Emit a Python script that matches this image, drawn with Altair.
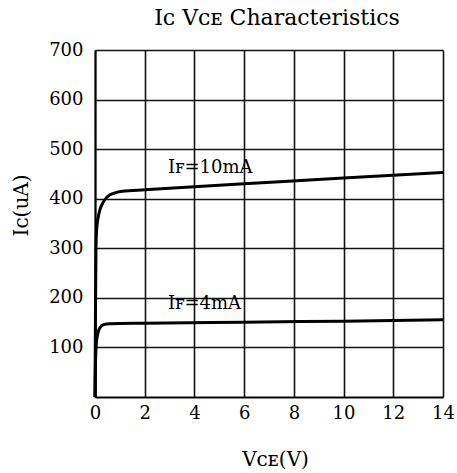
import altair as alt
import pandas as pd

# IF = 10 mA curve
vce_10 = [0, 0.02, 0.04, 0.07, 0.12, 0.2, 0.32, 0.5, 0.75, 1.1, 2, 6, 10, 14]
ic_10 = [0, 180, 300, 340, 360, 378, 392, 404, 411, 415, 418, 430, 442, 453]
# IF = 4 mA curve
vce_4 = [0, 0.02, 0.05, 0.1, 0.2, 0.35, 0.6, 2, 6, 10, 14]
ic_4 = [0, 70, 105, 125, 140, 146, 148, 149, 151, 153, 156]

label_text = ["Iꜰ=10mA", "Iꜰ=4mA"]
label_v = [2.94, 2.94]
label_ic = [462, 187]

x_ticks = [0, 2, 4, 6, 8, 10, 12, 14]
y_ticks = [100, 200, 300, 400, 500, 600, 700]

rows = []
for v, i in zip(vce_10, ic_10):
    rows.append({"v": v, "i": i, "curve": "10mA"})
for v, i in zip(vce_4, ic_4):
    rows.append({"v": v, "i": i, "curve": "4mA"})
df = pd.DataFrame(rows)
labels = pd.DataFrame({"v": label_v, "i": label_ic, "t": label_text})

FONT = "DejaVu Serif"

xenc = alt.X("v:Q", scale=alt.Scale(domain=[0, 14], nice=False, zero=False),
             axis=alt.Axis(values=x_ticks, title="Vᴄᴇ(V)", format="d",
                           labelFont=FONT, labelFontSize=18, labelColor="black",
                           labelPadding=16, labelBaseline="middle", tickSize=0,
                           labelFlush=False, labelOverlap=False,
                           domainColor="black", domainWidth=2,
                           gridColor="#111", gridWidth=1.6, gridOpacity=1,
                           titleFont=FONT, titleFontSize=20, titleFontWeight="normal",
                           titleColor="black", titleX=180, titleY=62,
                           titleAlign="center", titleBaseline="middle"))
yenc = alt.Y("i:Q", scale=alt.Scale(domain=[0, 700], nice=False),
             axis=alt.Axis(values=y_ticks, title="Iᴄ(uA)", format="d",
                           labelFont=FONT, labelFontSize=18, labelColor="black",
                           labelPadding=12, tickSize=0,
                           labelFlush=False, labelOverlap=False,
                           domainColor="black", domainWidth=2,
                           gridColor="#111", gridWidth=1.6, gridOpacity=1,
                           titleFont=FONT, titleFontSize=20, titleFontWeight="normal",
                           titleColor="black", titleX=-74, titleY=155,
                           titleAngle=270, titleBaseline="middle", titleAlign="center"))

lines = alt.Chart(df).mark_line(color="black", strokeWidth=3, interpolate="monotone").encode(
    x=xenc, y=yenc, detail="curve:N"
)
texts = alt.Chart(labels).mark_text(font=FONT, fontSize=18, color="black",
                                    align="left", baseline="middle").encode(
    x="v:Q", y="i:Q", text="t:N"
)

chart = alt.layer(lines, texts).properties(
    width=348, height=347,
    autosize=alt.AutoSizeParams(type="none"),
    padding={"left": 95, "top": 50, "right": 14, "bottom": 76},
    title=alt.Title("Iᴄ Vᴄᴇ Characteristics", font=FONT, fontSize=22,
                    fontWeight="normal", color="black", anchor="middle",
                    dx=8, dy=22, offset=16, baseline="alphabetic"),
).configure_view(stroke="black", strokeWidth=2).configure(background="white")

chart.save("out.html", embed_options={"renderer": "svg", "actions": False})
